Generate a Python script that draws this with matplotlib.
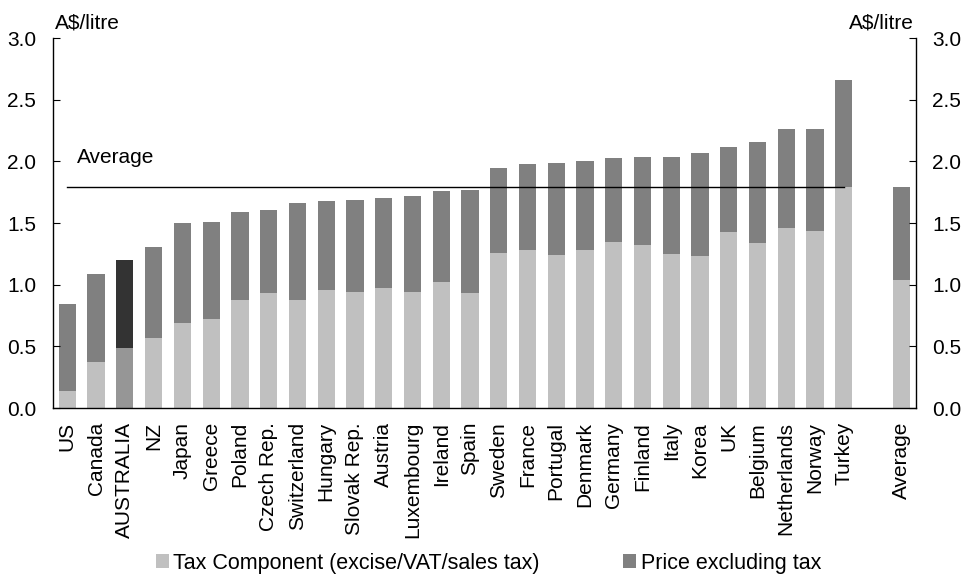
import matplotlib

matplotlib.use("Agg")
import matplotlib.pyplot as plt
from matplotlib.patches import Patch
import numpy as np

plt.rcParams["font.family"] = ["Liberation Sans", "DejaVu Sans"]

countries = [
    "US", "Canada", "AUSTRALIA", "NZ", "Japan", "Greece", "Poland", "Czech Rep.",
    "Switzerland", "Hungary", "Slovak Rep.", "Austria", "Luxembourg", "Ireland",
    "Spain", "Sweden", "France", "Portugal", "Denmark", "Germany", "Finland",
    "Italy", "Korea", "UK", "Belgium", "Netherlands", "Norway", "Turkey",
]
# total pump price and tax component, A$/litre
total_price = [
    0.84, 1.09, 1.20, 1.31, 1.50, 1.51, 1.59, 1.61, 1.66, 1.68, 1.69, 1.70, 1.72, 1.76,
    1.77, 1.95, 1.98, 1.99, 2.00, 2.03, 2.04, 2.04, 2.07, 2.12, 2.16, 2.26, 2.26, 2.66,
]
tax_component = [
    0.14, 0.37, 0.49, 0.57, 0.69, 0.72, 0.88, 0.93, 0.88, 0.96, 0.94, 0.97, 0.94, 1.02,
    0.93, 1.26, 1.28, 1.24, 1.28, 1.35, 1.32, 1.25, 1.23, 1.43, 1.34, 1.46, 1.44, 1.79,
]
average_total = 1.79
average_tax = 1.04

TAX_COLOUR = "#c0c0c0"
PRICE_COLOUR = "#808080"
AUS_TAX_COLOUR = "#969696"
AUS_PRICE_COLOUR = "#333333"
FS = 15

labels = countries + ["Average"]
totals = np.asarray(total_price + [average_total])
taxes = np.asarray(tax_component + [average_tax])
ex_tax = totals - taxes
x = np.concatenate([np.arange(len(countries)), [len(countries) + 1]])

tax_colours = [AUS_TAX_COLOUR if c == "AUSTRALIA" else TAX_COLOUR for c in labels]
price_colours = [AUS_PRICE_COLOUR if c == "AUSTRALIA" else PRICE_COLOUR for c in labels]

fig = plt.figure(figsize=(9.67, 5.78), dpi=100)
ax = fig.add_axes([0.0548, 0.294, 0.892, 0.640])

ax.bar(x, taxes, width=0.6, color=tax_colours, linewidth=0)
ax.bar(x, ex_tax, bottom=taxes, width=0.6, color=price_colours, linewidth=0)
ax.plot([0, len(countries) - 1], [average_total, average_total], color="black", linewidth=1)
ax.text(0.35, 2.03, "Average", fontsize=FS, ha="left", va="center")

ax.set_xlim(-0.5, len(countries) + 1.5)
ax.set_ylim(0, 3.0)
ticks = np.arange(0, 3.01, 0.5)
ax.set_yticks(ticks)
ax.set_yticklabels([f"{v:.1f}" for v in ticks])
ax.set_xticks(x)
ax.set_xticklabels(labels, rotation=90, fontsize=FS)
ax.tick_params(axis="x", length=0, pad=10)
ax.tick_params(axis="y", direction="in", length=5, labelsize=FS, pad=12,
               right=True, labelright=True)
ax.spines["top"].set_visible(False)
for side in ("left", "right", "bottom"):
    ax.spines[side].set_linewidth(1)

fig.text(55 / 967, 1 - 28 / 578, "A$/litre", fontsize=FS, ha="left", va="baseline")
fig.text(914 / 967, 1 - 28 / 578, "A$/litre", fontsize=FS, ha="right", va="baseline")

handles = [
    Patch(facecolor=TAX_COLOUR, label="Tax Component (excise/VAT/sales tax)"),
    Patch(facecolor=PRICE_COLOUR, label="Price excluding tax"),
]
fig.legend(handles=handles, loc="center", bbox_to_anchor=(0.505, 1 - 563 / 578), ncol=2,
           frameon=False, fontsize=15.5, handlelength=0.6, handleheight=0.6,
           handletextpad=0.2, columnspacing=3.9, borderpad=0)

fig.savefig("out.png", dpi=100)
